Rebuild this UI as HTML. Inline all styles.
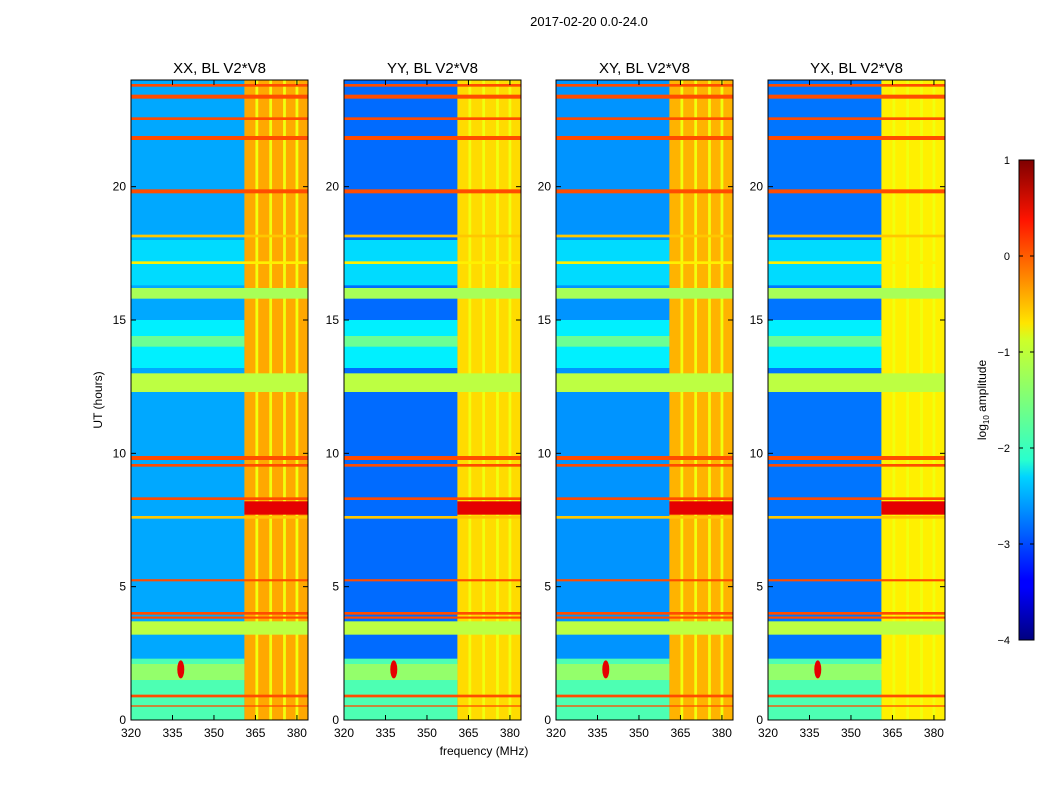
<!DOCTYPE html>
<html><head><meta charset="utf-8"><style>
body{margin:0;background:#fff;font-family:"Liberation Sans",sans-serif}
svg text{font-family:"Liberation Sans",sans-serif}
</style></head><body>
<svg id="fig" width="1050" height="800" xmlns="http://www.w3.org/2000/svg">
<rect width="1050" height="800" fill="#fff"/>
<text x="589" y="26" font-size="13" text-anchor="middle">2017-02-20 0.0-24.0</text>
<text x="484" y="755" font-size="12" text-anchor="middle">frequency (MHz)</text>
<text transform="translate(102,400) rotate(-90)" font-size="12" text-anchor="middle">UT (hours)</text>
<defs>
<linearGradient id="jet" x1="0" y1="1" x2="0" y2="0">
<stop offset="0" stop-color="#00007f"/><stop offset="0.11" stop-color="#0000ff"/>
<stop offset="0.125" stop-color="#0000ff"/><stop offset="0.34" stop-color="#00d4ff"/>
<stop offset="0.375" stop-color="#29ffce"/><stop offset="0.5" stop-color="#7dff7a"/>
<stop offset="0.625" stop-color="#ceff29"/><stop offset="0.66" stop-color="#ffe500"/>
<stop offset="0.875" stop-color="#ff1400"/><stop offset="1" stop-color="#7f0000"/>
</linearGradient>
</defs>
<g>
<rect x="1019" y="160" width="15" height="480" fill="url(#jet)" stroke="#000" stroke-width="1"/>
</g>
<text transform="translate(986,400) rotate(-90)" font-size="12" text-anchor="middle">log<tspan font-size="8" dy="3">10</tspan><tspan dy="-3"> amplitude</tspan></text>
<g id="panels"></g>
</svg>
<script>
const titles = ["XX, BL V2*V8","YY, BL V2*V8","XY, BL V2*V8","YX, BL V2*V8"];
const baseLevels = [-2.55,-2.85,-2.65,-2.8];
const bandLevels = [-0.45,-0.7,-0.5,-0.8];
// frequency RFI block [startMHz,endMHz]
const rfiBlock = [[361,384],[361,384],[361,384],[361,384]];
// vertical lighter columns inside RFI block (MHz)
const rfiColumns = [365.5,370.5,375.5,380];
// horizontal features across full width: [startHour,endHour,level]
const timeBands = [
 [3.2,3.7,-1.2],[12.3,13.0,-1.2],[15.8,16.2,-1.3],
 [23.75,23.85,0],[23.3,23.45,0],[22.5,22.6,0],[21.75,21.9,0],[19.75,19.9,0],
 [9.75,9.9,0],[9.5,9.6,0],[8.25,8.35,0],[7.55,7.65,-0.6],[5.2,5.28,0],
 [3.95,4.05,0],[3.8,3.88,0],[0.85,0.95,0],[0.5,0.55,0],[18.1,18.2,-0.6],[17.1,17.2,-0.8]
];
// features only left of the RFI block: [startHour,endHour,level]
const lowBands = [[0,2.3,-1.75],[1.5,2.1,-1.4],[13.2,15.0,-2.2],[16.3,18.0,-2.3],[14.0,14.4,-1.6]];
// strong block inside RFI band [startHour,endHour,level]
const rfiHot = [[7.7,8.2,0.5]];
const panelX = [131,344,556,768];
const panelW = 177, pTop = 80, pBot = 720;
const fMin = 320, fMax = 384, tMin = 0, tMax = 24;
const xTicks = [320,335,350,365,380];
const yTicks = [0,5,10,15,20];
const cbTicks = [1,0,-1,-2,-3,-4];

function jet(v){
  let t=Math.max(0,Math.min(1,(v+4)/5));
  const c=x=>Math.round(255*Math.max(0,Math.min(1,x)));
  return `rgb(${c(1.5-Math.abs(4*t-3))},${c(1.5-Math.abs(4*t-2))},${c(1.5-Math.abs(4*t-1))})`;
}
const NS="http://www.w3.org/2000/svg";
const root=document.getElementById('panels');
function mk(tag,attrs,parent){const e=document.createElementNS(NS,tag);for(const k in attrs)e.setAttribute(k,attrs[k]);parent.appendChild(e);return e;}

panelX.forEach((px,i)=>{
  const X=f=>px+(f-fMin)/(fMax-fMin)*panelW;
  const Y=t=>pBot-(t-tMin)/(tMax-tMin)*(pBot-pTop);
  const g=mk('g',{},root);
  
  
  const bg=mk('rect',{x:px,y:pTop,width:panelW,height:pBot-pTop,fill:jet(baseLevels[i])},g);
  
  
  const rb=rfiBlock[i];
  lowBands.forEach(b=>{
    const r=mk('rect',{x:px,y:Y(b[1]),width:X(rb[0])-px,height:Math.max(1,Y(b[0])-Y(b[1])),fill:jet(b[2])},g);
    
    
  });
  const blk=mk('rect',{x:X(rb[0]),y:pTop,width:X(rb[1])-X(rb[0]),height:pBot-pTop,fill:jet(bandLevels[i])},g);
  
  
  rfiColumns.forEach(f=>{
    const c=mk('rect',{x:X(f-0.5),y:pTop,width:X(f+0.5)-X(f-0.5),height:pBot-pTop,fill:jet(-0.95)},g);
    
    
  });
  timeBands.forEach(b=>{
    const r=mk('rect',{x:px,y:Y(b[1]),width:panelW,height:Math.max(1,Y(b[0])-Y(b[1])),fill:jet(b[2])},g);
    
    
  });
  rfiHot.forEach(b=>{
    const r=mk('rect',{x:X(rb[0]),y:Y(b[1]),width:X(rb[1])-X(rb[0]),height:Y(b[0])-Y(b[1]),fill:jet(b[2])},g);
    
    
  });
  const sp=mk('ellipse',{cx:X(338),cy:Y(1.9),rx:3.5,ry:9,fill:jet(0.5)},g);
  
  
  const fr=mk('rect',{x:px,y:pTop,width:panelW,height:pBot-pTop,fill:'none',stroke:'#000','stroke-width':1},g);
  
  
  const tt=mk('text',{x:px+panelW/2,y:73,'font-size':15,'text-anchor':'middle'},g);
  tt.textContent=titles[i];
  
  
  xTicks.forEach(f=>{
    mk('line',{x1:X(f),x2:X(f),y1:pBot,y2:pBot-5,stroke:'#000'},g);
    mk('line',{x1:X(f),x2:X(f),y1:pTop,y2:pTop+5,stroke:'#000'},g);
    const t=mk('text',{x:X(f),y:pBot+17,'font-size':12,'text-anchor':'middle'},g);
    t.textContent=f;
    
    
  });
  yTicks.forEach(v=>{
    mk('line',{x1:px,x2:px+5,y1:Y(v),y2:Y(v),stroke:'#000'},g);
    mk('line',{x1:px+panelW,x2:px+panelW-5,y1:Y(v),y2:Y(v),stroke:'#000'},g);
    const t=mk('text',{x:px-5,y:Y(v)+4,'font-size':12,'text-anchor':'end'},g);
    t.textContent=v;
    
    
  });
});
const fig=document.getElementById('fig');
cbTicks.forEach(v=>{
  const y=160+(1-v)/5*480;
  mk('line',{x1:1019,x2:1023,y1:y,y2:y,stroke:'#000'},fig);
  mk('line',{x1:1034,x2:1030,y1:y,y2:y,stroke:'#000'},fig);
  const t=mk('text',{x:1010,y:y+4,'font-size':11,'text-anchor':'end'},fig);
  t.textContent=(v<0?'\u2212'+(-v):v);
  
  
});
</script>
</body></html>
